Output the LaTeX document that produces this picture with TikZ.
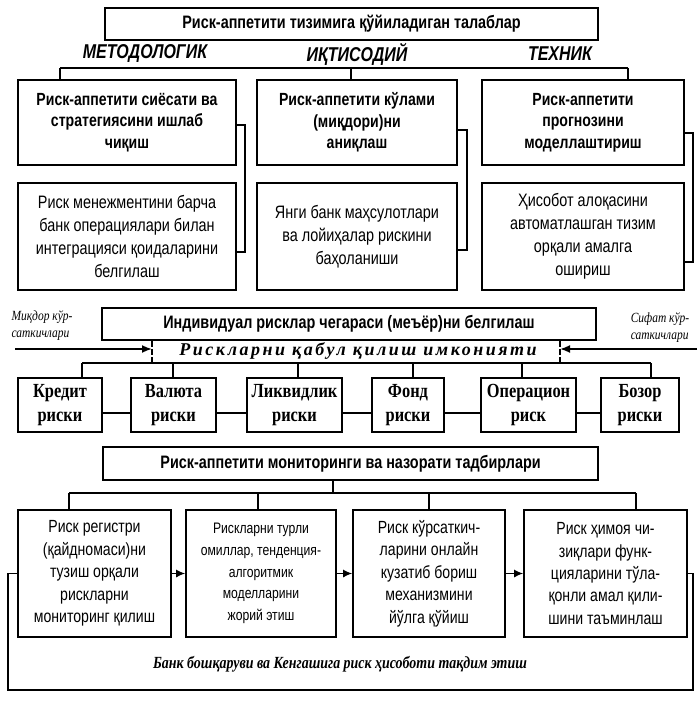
\documentclass[tikz,border=0pt]{standalone}
\usepackage{fontspec}
\setmainfont{Liberation Sans}
\newfontfamily\nar{Liberation Sans}[FakeStretch=0.8]
\newfontfamily\sernar{Liberation Serif}[FakeStretch=0.82]
\newfontfamily\serspc{Liberation Serif}[LetterSpace=14]
\usetikzlibrary{arrows.meta}
\begin{document}
\begin{tikzpicture}[x=0.5pt,y=-0.5pt,
  box/.style={draw, line width=0.9pt, align=center, inner sep=1pt},
  sz/.style 2 args={minimum width=#1*0.5pt, minimum height=#2*0.5pt},
  ln/.style={line width=0.6pt},
  dln/.style={line width=0.8pt, dash pattern=on 3pt off 1pt},
  arr/.style={line width=0.6pt, -{Latex[length=4.5pt,width=4pt]}},
  ttl/.style={font=\nar\bfseries\fontsize{9}{11}\selectfont},
  lab/.style={font=\nar\bfseries\itshape\fontsize{10}{12}\selectfont},
  rowa/.style={font=\nar\bfseries\fontsize{8.8}{10.8}\selectfont},
  rowb/.style={font=\nar\fontsize{9}{11.5}\selectfont},
  risk/.style={font=\sernar\bfseries\fontsize{10}{12}\selectfont},
  bot/.style={font=\nar\fontsize{8.8}{11.2}\selectfont},
  side/.style={font=\sernar\itshape\fontsize{7}{8.5}\selectfont, align=left, inner sep=0pt}
]
\useasboundingbox (0,0) rectangle (697,710);

% top
\node[box, ttl, sz={493}{32}] (top) at (351.5,24) {Риск-аппетити тизимига қўйиладиган талаблар};
\node[lab] (l1) at (145,54) {МЕТОДОЛОГИК};
\node[lab] (l2) at (357,54) {ИҚТИСОДИЙ};
\node[lab] (l3) at (560,54) {ТЕХНИК};

\node[box, rowa, sz={218}{85}] (b1) at (127,122.5) {Риск-аппетити сиёсати ва\\стратегиясини ишлаб\\чиқиш};
\node[box, rowa, sz={200}{85}] (b2) at (357,122.5) {Риск-аппетити кўлами\\(миқдори)ни\\аниқлаш};
\node[box, rowa, sz={202}{85}] (b3) at (583,122.5) {Риск-аппетити\\прогнозини\\моделлаштириш};
\node[box, rowb, sz={218}{107}] (b4) at (127,236.5) {Риск менежментини барча\\банк операциялари билан\\интеграцияси қоидаларини\\белгилаш};
\node[box, rowb, sz={200}{107}] (b5) at (357,236.5) {Янги банк маҳсулотлари\\ва лойиҳалар рискини\\баҳоланиши};
\node[box, rowb, sz={202}{107}] (b6) at (583,236.5) {Ҳисобот алоқасини\\автоматлашган тизим\\орқали амалга\\ошириш};

\coordinate (h1) at (60,68);
\coordinate (h2) at (351,68);
\coordinate (h3) at (628,68);
\draw[ln] (h1) -- (h3);
\draw[ln] (h1) -- (h1 |- b1.north);
\draw[ln] (h2) -- (h2 |- b2.north);
\draw[ln] (h3) -- (h3 |- b3.north);

\coordinate (k1a) at (245,125); \coordinate (k1b) at (245,252);
\coordinate (k2a) at (467,130); \coordinate (k2b) at (467,250);
\coordinate (k3a) at (693,133); \coordinate (k3b) at (693,262);
\draw[ln] (b1.east |- k1a) -- (k1a) -- (k1b) -- (b4.east |- k1b);
\draw[ln] (b2.east |- k2a) -- (k2a) -- (k2b) -- (b5.east |- k2b);
\draw[ln] (b3.east |- k3a) -- (k3a) -- (k3b) -- (b6.east |- k3b);

% individual limits
\node[box, ttl, sz={494}{32}] (ind) at (349,324) {Индивидуал рисклар чегараси (меъёр)ни белгилаш};
\node[side] (q1) at (42,326) {Миқдор кўр-\\саткичлари};
\node[side] (q2) at (660,328) {Сифат кўр-\\саткичлари};
\node[font=\serspc\bfseries\itshape\fontsize{9}{11}\selectfont] (cap) at (358,351) {Рискларни қабул қилиш имконияти};

\coordinate (dL) at (152,363);
\coordinate (dR) at (560,363);
\coordinate (aL) at (15,349);
\coordinate (aR) at (697,349);
\draw[dln] (ind.south -| dL) -- (dL);
\draw[dln] (ind.south -| dR) -- (dR);
\draw[line width=0.9pt, -{Latex[length=5pt,width=4pt]}] (aL) -- (aL -| dL);
\draw[line width=0.9pt, -{Latex[length=5pt,width=4pt]}] (aR) -- (aR -| dR);

% risks
\node[box, risk, sz={84}{54}] (r1) at (60,405) {Кредит\\риски};
\node[box, risk, sz={85}{54}] (r2) at (173.5,405) {Валюта\\риски};
\node[box, risk, sz={95}{54}] (r3) at (294.5,405) {Ликвидлик\\риски};
\node[box, risk, sz={72}{54}] (r4) at (408,405) {Фонд\\риски};
\node[box, risk, sz={95}{54}] (r5) at (528.5,405) {Операцион\\риск};
\node[box, risk, sz={78}{54}] (r6) at (640,405) {Бозор\\риски};

\coordinate (t1) at (82,363);
\coordinate (t2) at (173,363);
\coordinate (t3) at (298,363);
\coordinate (t4) at (413,363);
\coordinate (t5) at (522,363);
\coordinate (t6) at (651,363);
\draw[line width=0.8pt] (t1) -- (t6);
\draw[ln] (t1) -- (t1 |- r1.north);
\draw[ln] (t2) -- (t2 |- r2.north);
\draw[ln] (t3) -- (t3 |- r3.north);
\draw[ln] (t4) -- (t4 |- r4.north);
\draw[ln] (t5) -- (t5 |- r5.north);
\draw[ln] (t6) -- (t6 |- r6.north);

\coordinate (rc) at (0,413);
\draw[ln] (r1.east |- rc) -- (r2.west |- rc);
\draw[ln] (r2.east |- rc) -- (r3.west |- rc);
\draw[ln] (r3.east |- rc) -- (r4.west |- rc);
\draw[ln] (r4.east |- rc) -- (r5.west |- rc);
\draw[ln] (r5.east |- rc) -- (r6.west |- rc);

% monitoring
\node[box, ttl, sz={495}{33}] (mon) at (350.5,463.5) {Риск-аппетити мониторинги ва назорати тадбирлари};
\coordinate (mv) at (333,493);
\coordinate (m1) at (69,493);
\coordinate (m2) at (258,493);
\coordinate (m3) at (429,493);
\coordinate (m4) at (636,493);
\draw[line width=0.9pt] (mon.south -| mv) -- (mv);
\draw[line width=0.8pt] (m1) -- (m4);

\node[box, bot, sz={153}{127}] (A) at (94.5,573.5) {Риск регистри\\(қайдномаси)ни\\тузиш орқали\\рискларни\\мониторинг қилиш};
\node[box, font=\nar\fontsize{7.6}{10.8}\selectfont, sz={150}{127}] (B) at (261,573.5) {Рискларни турли\\омиллар, тенденция-\\алгоритмик\\моделларини\\жорий этиш};
\node[box, bot, sz={152}{127}] (C) at (429,573.5) {Риск кўрсаткич-\\ларини онлайн\\кузатиб бориш\\механизмини\\йўлга қўйиш};
\node[box, bot, sz={163}{127}] (D) at (605.5,573.5) {Риск ҳимоя чи-\\зиқлари функ-\\цияларини тўла-\\қонли амал қили-\\шини таъминлаш};

\draw[ln] (m1) -- (m1 |- A.north);
\draw[ln] (m2) -- (m2 |- B.north);
\draw[ln] (m3) -- (m3 |- C.north);
\draw[ln] (m4) -- (m4 |- D.north);

\draw[arr] (A.east) -- (B.west);
\draw[arr] (B.east) -- (C.west);
\draw[arr] (C.east) -- (D.west);

\coordinate (fR) at (693,690);
\coordinate (fL) at (8,690);
\draw[line width=0.8pt] (D.east) -- (D.east -| fR) -- (fR) -- (fL) -- (fL |- A.west) -- (A.west);
\node[font=\sernar\bfseries\itshape\fontsize{8.5}{10}\selectfont] (rep) at (340,664) {Банк бошқаруви ва Кенгашига риск ҳисоботи тақдим этиш};
\end{tikzpicture}
\end{document}
